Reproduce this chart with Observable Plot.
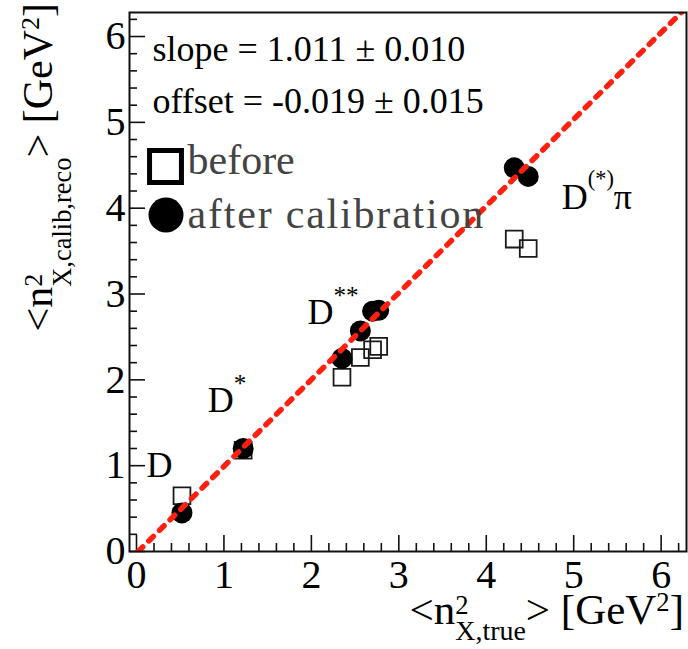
<!DOCTYPE html>
<html>
<head>
<meta charset="utf-8">
<script src="https://cdn.jsdelivr.net/npm/d3@7"></script>
<script src="https://cdn.jsdelivr.net/npm/@observablehq/plot@0.6"></script>
<style>
html,body{margin:0;padding:0;background:#fff;}
#chart{width:688px;height:649px;}
#chart svg text{font-family:"Liberation Serif",serif !important;white-space:pre;}
</style>
</head>
<body>
<div id="chart"></div>
<script>
// ---- data ----
const channelX = [0.52, 1.22, 2.35, 2.56, 2.70, 2.77, 4.32, 4.48];   // <n^2_X,true>
const beforeY  = [0.65, 1.18, 2.03, 2.26, 2.35, 2.39, 3.64, 3.53];   // before calibration
const afterY   = [0.45, 1.20, 2.25, 2.57, 2.80, 2.81, 4.47, 4.37];   // after calibration
const fitSlope = 1.011, fitOffset = -0.019;
const xTicks = [0, 1, 2, 3, 4, 5, 6];
const yTicks = [0, 1, 2, 3, 4, 5, 6];
const statLines = ["slope = 1.011 \u00b1 0.010", "offset = -0.019 \u00b1 0.015"];
const legendItems = ["before", "after calibration"];
const labelBase = ["D", "D", "D", "D"];
const labelSup  = ["", "*", "**", "(*)"];
const labelTail = ["", "", "", "\u03c0"];
const labelX = [0.12, 0.82, 1.96, 4.87];
const labelY = [0.86, 1.62, 2.65, 3.99];

// ---- layout ----
const W = 688, H = 649, mL = 129, mR = 2, mT = 12, mB = 98;
const fw = W - mL - mR, fh = H - mT - mB;
const xDomain = [-0.08, 6.29], yDomain = [0, 6.28];
const FONT = "Liberation Serif";

const rows = channelX.map((x, i) => ({x, before: beforeY[i], after: afterY[i]}));
const xStart = -fitOffset / fitSlope, xEnd = (yDomain[1] - fitOffset) / fitSlope;
const fitLine = [xStart, xEnd].map(x => ({x, y: fitSlope * x + fitOffset}));
const isInt = v => Math.abs(v - Math.round(v)) < 1e-6;
const xMinor = d3.range(1, 40).map(i => +(i * 0.2).toFixed(1)).filter(v => !isInt(v) && v < xDomain[1]);
const yMinor = d3.range(1, 40).map(i => +(i * 0.2).toFixed(1)).filter(v => !isInt(v) && v < yDomain[1]);

const ink = "#111";
const chart = Plot.plot({
  width: W, height: H,
  marginLeft: mL, marginRight: mR, marginTop: mT, marginBottom: mB,
  x: {domain: xDomain},
  y: {domain: yDomain},
  style: {background: "#fff", color: "#000", fontFamily: FONT},
  marks: [
    Plot.tickX(xTicks, {x: d => d, insetTop: fh - 16, stroke: ink, strokeWidth: 1.6}),
    Plot.tickX(xMinor, {x: d => d, insetTop: fh - 8, stroke: ink, strokeWidth: 1.6}),
    Plot.tickY(yTicks, {y: d => d, insetRight: fw - 16, stroke: ink, strokeWidth: 1.6}),
    Plot.tickY(yMinor, {y: d => d, insetRight: fw - 8, stroke: ink, strokeWidth: 1.6}),
    Plot.axisX({ticks: xTicks, tickSize: 0, tickPadding: 8, fontSize: 40, fontFamily: FONT, tickFormat: d => d, label: null}),
    Plot.axisY({ticks: yTicks, tickSize: 0, tickPadding: 4, fontSize: 40, fontFamily: FONT, tickFormat: d => d, label: null}),
    Plot.dot(rows, {x: "x", y: "before", symbol: "square", r: 9.5, stroke: "#1a1a1a", strokeWidth: 1.8, fill: "none"}),
    Plot.dot(rows, {x: "x", y: "after", r: 10.5, fill: "#000", stroke: "none"}),
    Plot.line(fitLine, {x: "x", y: "y", stroke: "#ff2010", strokeWidth: 5.5, strokeDasharray: "6.5,8.5", clip: true}),
    Plot.frame({stroke: ink, strokeWidth: 2}),
    // fit statistics
    Plot.text([statLines[0]], {frameAnchor: "top-left", dx: 23, dy: 48, lineAnchor: "bottom", textAnchor: "start", fontSize: 36, fontFamily: FONT, fill: "#000"}),
    Plot.text([statLines[1]], {frameAnchor: "top-left", dx: 23, dy: 100, lineAnchor: "bottom", textAnchor: "start", fontSize: 36, fontFamily: FONT, fill: "#000"}),
    // legend
    Plot.dot([legendItems[0]], {frameAnchor: "top-left", dx: 36, dy: 154, symbol: "square", r: 18, stroke: "#000", strokeWidth: 5, fill: "none"}),
    Plot.dot([legendItems[1]], {frameAnchor: "top-left", dx: 36.5, dy: 202.5, r: 17.5, fill: "#000"}),
    Plot.text([legendItems[0]], {frameAnchor: "top-left", dx: 58, dy: 161, lineAnchor: "bottom", textAnchor: "start", fontSize: 42, fontFamily: FONT, fill: "#444"}),
    Plot.text([legendItems[1]], {frameAnchor: "top-left", dx: 58, dy: 215, lineAnchor: "bottom", textAnchor: "start", fontSize: 42, fontFamily: FONT, fill: "#444"})
  ]
});
document.getElementById("chart").append(chart);

// ---- rich text (super/subscripts) ----
const svg = d3.select(chart);
// legend text in the reference is set slightly wider (LaTeX font)
svg.selectAll("text").filter(function () { return this.textContent === legendItems[1]; })
  .style("letter-spacing", "1.8px");

function rich({x, y, rotate = 0, anchor = "start", size, parts, fill = "#000"}) {
  const g = svg.append("g").attr("transform", `translate(${x},${y})` + (rotate ? ` rotate(${rotate})` : ""));
  const inner = g.append("g");
  let cx = 0, pending = 0;
  for (const p of parts) {
    if (!p.t) continue;
    const t = inner.append("text")
      .attr("x", cx).attr("y", (p.shift ?? 0) * size)
      .attr("text-anchor", "start")
      .attr("font-family", FONT)
      .attr("font-size", size * (p.scale ?? 1))
      .attr("fill", fill).text(p.t);
    const w = t.node().getComputedTextLength();
    if (p.stack) { pending = w; continue; }
    cx += Math.max(w, pending); pending = 0;
  }
  if (anchor === "end") inner.attr("transform", `translate(${-cx},0)`);
  return g;
}
const sx = chart.scale("x"), sy = chart.scale("y");

// channel labels
labelBase.forEach((b, i) => {
  rich({x: sx.apply(labelX[i]), y: sy.apply(labelY[i]), size: 36, parts: [
    {t: b},
    {t: labelSup[i], scale: i === 3 ? 0.62 : 0.7, shift: i === 3 ? -0.62 : -0.55},
    {t: labelTail[i]}
  ]});
});

// axis titles
rich({x: 684, y: 624, anchor: "end", size: 43, parts: [
  {t: "<n"},
  {t: "2", scale: 0.62, shift: -0.24, stack: true},
  {t: "X,true", scale: 0.65, shift: 0.38},
  {t: "> [GeV"},
  {t: "2", scale: 0.62, shift: -0.3},
  {t: "]"}
]});
rich({x: 52, y: 3, rotate: -90, anchor: "end", size: 42, parts: [
  {t: "<n"},
  {t: "2", scale: 0.62, shift: -0.24, stack: true},
  {t: "X,calib,reco", scale: 0.63, shift: 0.45},
  {t: "> [GeV"},
  {t: "2", scale: 0.62, shift: -0.3},
  {t: "]"}
]});
</script>
</body>
</html>
